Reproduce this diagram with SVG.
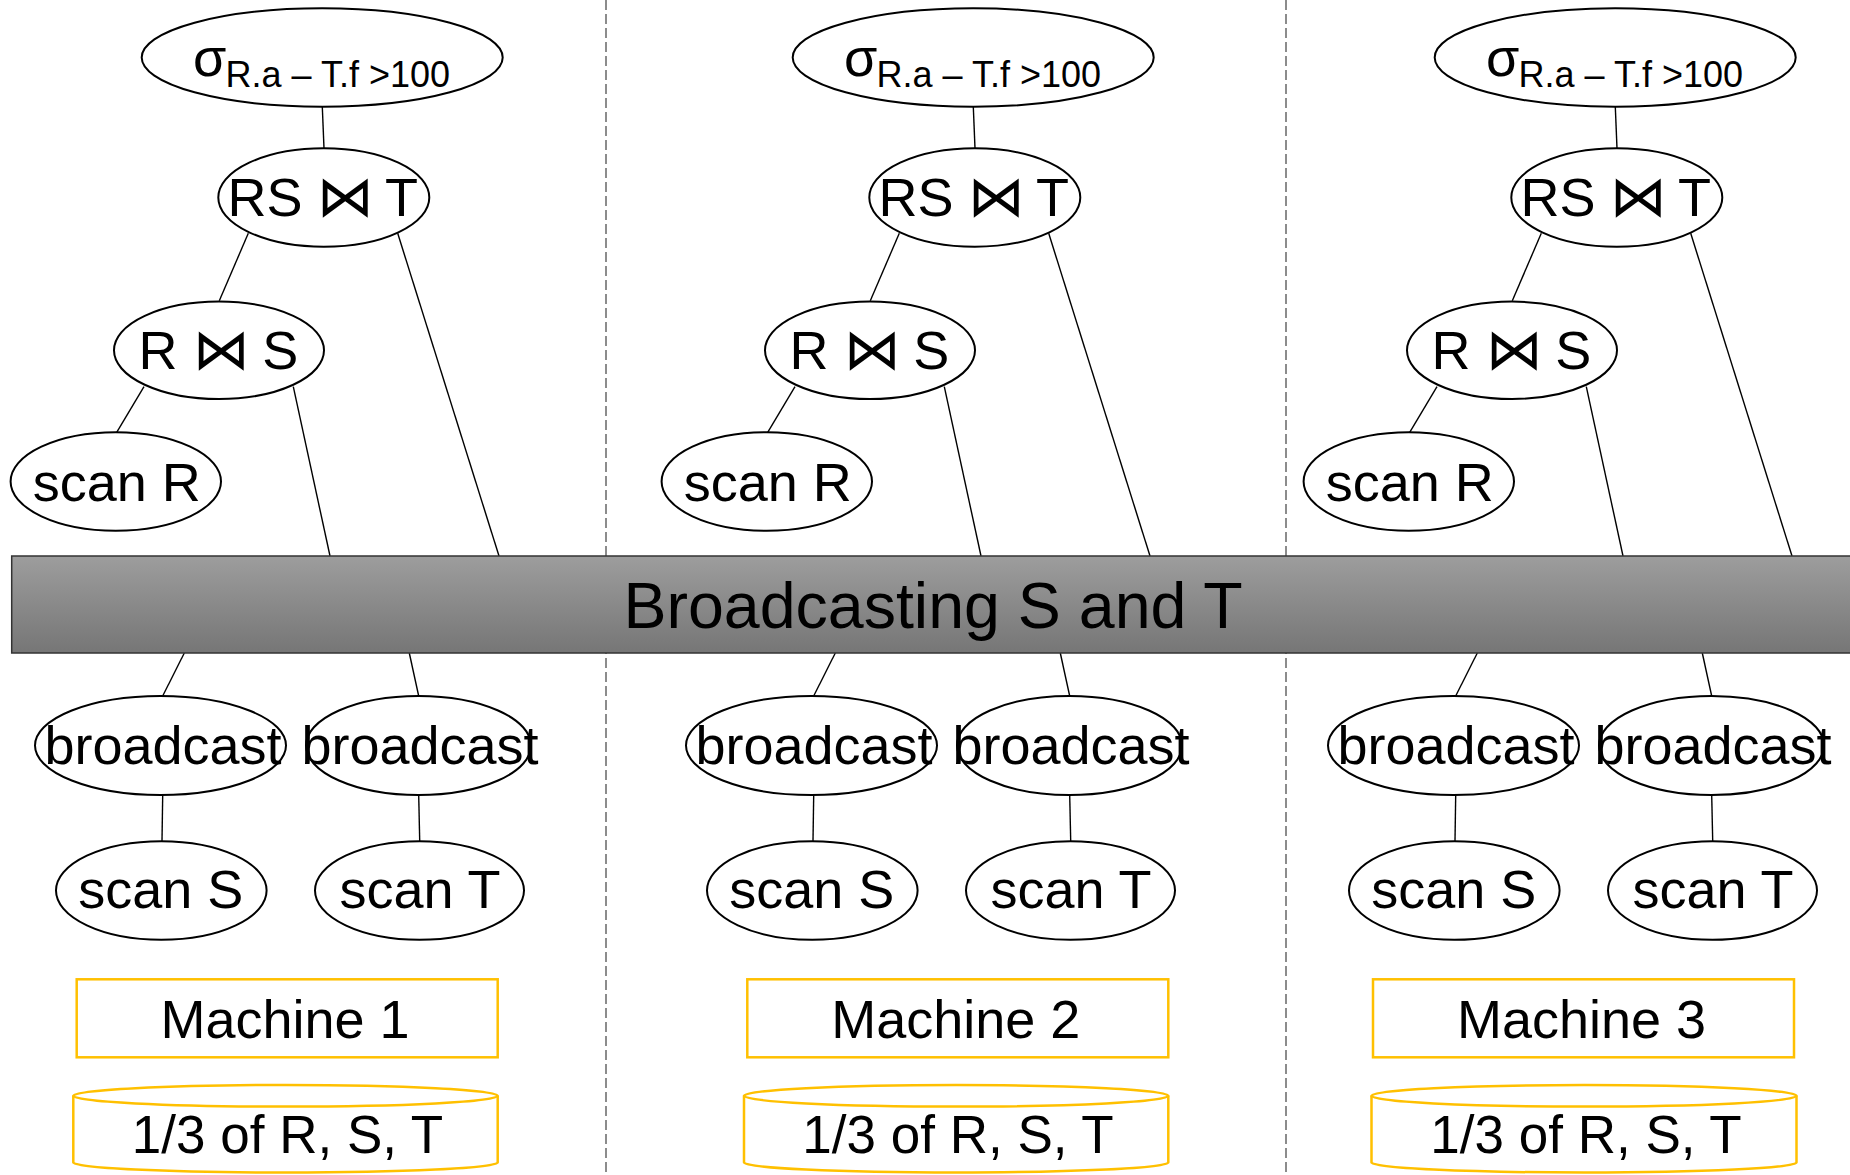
<svg xmlns="http://www.w3.org/2000/svg" width="1850" height="1175" viewBox="0 0 1850 1175">
<defs>
<linearGradient id="barGrad" x1="0" y1="0" x2="0" y2="1">
<stop offset="0" stop-color="#9d9d9d"/>
<stop offset="1" stop-color="#767676"/>
</linearGradient>
<style>
.node ellipse {fill:#fff; stroke:#000; stroke-width:2}
.t {font-family:"Liberation Sans", Arial, "DejaVu Sans", sans-serif; fill:#000}
.lbl {font-size:54px; text-anchor:middle}
.jl {font-size:54px}
.bt {font-family:"DejaVu Sans", sans-serif; font-size:57px; text-anchor:middle}
.conn line {stroke:#000; stroke-width:1.4; fill:none}
.divider {stroke:#8c8c8c; stroke-width:2; stroke-dasharray:10 4}
.machine rect {fill:#fff; stroke:#FFC000; stroke-width:2.5}
.disk path, .disk ellipse {fill:#fff; stroke:#FFC000; stroke-width:2.5}
.disk text {font-size:53px}
</style>
</defs>
<rect x="0" y="0" width="1850" height="1175" fill="#fff"/>

<g id="dividers">
<line class="divider" x1="606" y1="0" x2="606" y2="1175"/>
<line class="divider" x1="1286" y1="0" x2="1286" y2="1175"/>
</g>

<g id="connectors" class="conn">
<g id="conn-col1">
<line x1="322.3" y1="106.7" x2="324" y2="148.3"/>
<line x1="248.3" y1="233.3" x2="219.3" y2="300.7"/>
<line x1="397.7" y1="233.3" x2="499" y2="556"/>
<line x1="144" y1="386.7" x2="116.7" y2="432.3"/>
<line x1="293.3" y1="386.7" x2="330" y2="556"/>
<line x1="184.3" y1="653" x2="162.7" y2="696"/>
<line x1="409.3" y1="653" x2="418.7" y2="696"/>
<line x1="162.7" y1="795" x2="162" y2="841"/>
<line x1="418.7" y1="795" x2="419.7" y2="841"/>
</g>
<g id="conn-col2" transform="translate(651,0)">
<line x1="322.3" y1="106.7" x2="324" y2="148.3"/>
<line x1="248.3" y1="233.3" x2="219.3" y2="300.7"/>
<line x1="397.7" y1="233.3" x2="499" y2="556"/>
<line x1="144" y1="386.7" x2="116.7" y2="432.3"/>
<line x1="293.3" y1="386.7" x2="330" y2="556"/>
<line x1="184.3" y1="653" x2="162.7" y2="696"/>
<line x1="409.3" y1="653" x2="418.7" y2="696"/>
<line x1="162.7" y1="795" x2="162" y2="841"/>
<line x1="418.7" y1="795" x2="419.7" y2="841"/>
</g>
<g id="conn-col3" transform="translate(1293,0)">
<line x1="322.3" y1="106.7" x2="324" y2="148.3"/>
<line x1="248.3" y1="233.3" x2="219.3" y2="300.7"/>
<line x1="397.7" y1="233.3" x2="499" y2="556"/>
<line x1="144" y1="386.7" x2="116.7" y2="432.3"/>
<line x1="293.3" y1="386.7" x2="330" y2="556"/>
<line x1="184.3" y1="653" x2="162.7" y2="696"/>
<line x1="409.3" y1="653" x2="418.7" y2="696"/>
<line x1="162.7" y1="795" x2="162" y2="841"/>
<line x1="418.7" y1="795" x2="419.7" y2="841"/>
</g>
</g>

<g id="broadcast-bar">
<rect x="11.7" y="556" width="1850" height="97" fill="url(#barGrad)" stroke="#333" stroke-width="1.5"/>
<text class="t" x="933" y="628" font-size="64.5" text-anchor="middle">Broadcasting S and T</text>
</g>

<g id="col1">
<g id="m1-select" class="node"><ellipse cx="322.2" cy="57.5" rx="180.5" ry="49.2"/><text class="t"><tspan x="193" y="76" font-size="54">σ</tspan><tspan x="225.5" y="86.7" font-size="36">R.a – T.f &gt;100</tspan></text></g>
<g id="m1-join-rst" class="node"><ellipse cx="323.8" cy="197.5" rx="105.5" ry="49.2"/><text class="t jl" y="216"><tspan x="227.5">RS </tspan><tspan class="bt" x="345.3">⋈</tspan><tspan x="371"> T</tspan></text></g>
<g id="m1-join-rs" class="node"><ellipse cx="219" cy="350.3" rx="105" ry="48.7"/><text class="t jl" y="369.3"><tspan x="138.4">R </tspan><tspan class="bt" x="221.2">⋈</tspan><tspan x="247.3"> S</tspan></text></g>
<g id="m1-scan-r" class="node"><ellipse cx="115.8" cy="481.5" rx="105.2" ry="49.2"/><text class="t lbl" x="116.7" y="500.7">scan R</text></g>
<g id="m1-bcast-s" class="node"><ellipse cx="160.5" cy="745.5" rx="125.5" ry="49.5"/><text class="t lbl" x="163" y="764">broadcast</text></g>
<g id="m1-bcast-t" class="node"><ellipse cx="418.5" cy="745.5" rx="112.5" ry="49.5"/><text class="t lbl" x="420" y="764">broadcast</text></g>
<g id="m1-scan-s" class="node"><ellipse cx="161.3" cy="890.5" rx="105.3" ry="49.3"/><text class="t lbl" x="160.8" y="908.3">scan S</text></g>
<g id="m1-scan-t" class="node"><ellipse cx="419.5" cy="890.5" rx="104.5" ry="49.3"/><text class="t lbl" x="420" y="908.3">scan T</text></g>
</g>

<g id="col2" transform="translate(651,0)">
<g id="m2-select" class="node"><ellipse cx="322.2" cy="57.5" rx="180.5" ry="49.2"/><text class="t"><tspan x="193" y="76" font-size="54">σ</tspan><tspan x="225.5" y="86.7" font-size="36">R.a – T.f &gt;100</tspan></text></g>
<g id="m2-join-rst" class="node"><ellipse cx="323.8" cy="197.5" rx="105.5" ry="49.2"/><text class="t jl" y="216"><tspan x="227.5">RS </tspan><tspan class="bt" x="345.3">⋈</tspan><tspan x="371"> T</tspan></text></g>
<g id="m2-join-rs" class="node"><ellipse cx="219" cy="350.3" rx="105" ry="48.7"/><text class="t jl" y="369.3"><tspan x="138.4">R </tspan><tspan class="bt" x="221.2">⋈</tspan><tspan x="247.3"> S</tspan></text></g>
<g id="m2-scan-r" class="node"><ellipse cx="115.8" cy="481.5" rx="105.2" ry="49.2"/><text class="t lbl" x="116.7" y="500.7">scan R</text></g>
<g id="m2-bcast-s" class="node"><ellipse cx="160.5" cy="745.5" rx="125.5" ry="49.5"/><text class="t lbl" x="163" y="764">broadcast</text></g>
<g id="m2-bcast-t" class="node"><ellipse cx="418.5" cy="745.5" rx="112.5" ry="49.5"/><text class="t lbl" x="420" y="764">broadcast</text></g>
<g id="m2-scan-s" class="node"><ellipse cx="161.3" cy="890.5" rx="105.3" ry="49.3"/><text class="t lbl" x="160.8" y="908.3">scan S</text></g>
<g id="m2-scan-t" class="node"><ellipse cx="419.5" cy="890.5" rx="104.5" ry="49.3"/><text class="t lbl" x="420" y="908.3">scan T</text></g>
</g>

<g id="col3" transform="translate(1293,0)">
<g id="m3-select" class="node"><ellipse cx="322.2" cy="57.5" rx="180.5" ry="49.2"/><text class="t"><tspan x="193" y="76" font-size="54">σ</tspan><tspan x="225.5" y="86.7" font-size="36">R.a – T.f &gt;100</tspan></text></g>
<g id="m3-join-rst" class="node"><ellipse cx="323.8" cy="197.5" rx="105.5" ry="49.2"/><text class="t jl" y="216"><tspan x="227.5">RS </tspan><tspan class="bt" x="345.3">⋈</tspan><tspan x="371"> T</tspan></text></g>
<g id="m3-join-rs" class="node"><ellipse cx="219" cy="350.3" rx="105" ry="48.7"/><text class="t jl" y="369.3"><tspan x="138.4">R </tspan><tspan class="bt" x="221.2">⋈</tspan><tspan x="247.3"> S</tspan></text></g>
<g id="m3-scan-r" class="node"><ellipse cx="115.8" cy="481.5" rx="105.2" ry="49.2"/><text class="t lbl" x="116.7" y="500.7">scan R</text></g>
<g id="m3-bcast-s" class="node"><ellipse cx="160.5" cy="745.5" rx="125.5" ry="49.5"/><text class="t lbl" x="163" y="764">broadcast</text></g>
<g id="m3-bcast-t" class="node"><ellipse cx="418.5" cy="745.5" rx="112.5" ry="49.5"/><text class="t lbl" x="420" y="764">broadcast</text></g>
<g id="m3-scan-s" class="node"><ellipse cx="161.3" cy="890.5" rx="105.3" ry="49.3"/><text class="t lbl" x="160.8" y="908.3">scan S</text></g>
<g id="m3-scan-t" class="node"><ellipse cx="419.5" cy="890.5" rx="104.5" ry="49.3"/><text class="t lbl" x="420" y="908.3">scan T</text></g>
</g>

<g id="machine1" class="machine"><rect x="76.7" y="979.3" width="421" height="78"/><text class="t lbl" x="285" y="1037.7">Machine 1</text></g>
<g id="machine2" class="machine"><rect x="747.3" y="979.3" width="421" height="78"/><text class="t lbl" x="955.8" y="1037.7">Machine 2</text></g>
<g id="machine3" class="machine"><rect x="1373" y="979.3" width="421" height="78"/><text class="t lbl" x="1581.5" y="1037.7">Machine 3</text></g>

<g id="disk1" class="disk"><path d="M73.3 1095.8 V1162.5 A212.2 10 0 0 0 497.7 1162.5 V1095.8"/><ellipse cx="285.5" cy="1095.8" rx="212.2" ry="10.8"/><text class="t lbl" x="287.5" y="1153.3">1/3 of R, S, T</text></g>
<g id="disk2" class="disk"><path d="M744 1095.8 V1162.5 A212.15 10 0 0 0 1168.3 1162.5 V1095.8"/><ellipse cx="956.15" cy="1095.8" rx="212.15" ry="10.8"/><text class="t lbl" x="958" y="1153.3">1/3 of R, S, T</text></g>
<g id="disk3" class="disk"><path d="M1371.5 1095.8 V1162.5 A212.5 10 0 0 0 1796.5 1162.5 V1095.8"/><ellipse cx="1584" cy="1095.8" rx="212.5" ry="10.8"/><text class="t lbl" x="1586" y="1153.3">1/3 of R, S, T</text></g>
</svg>
